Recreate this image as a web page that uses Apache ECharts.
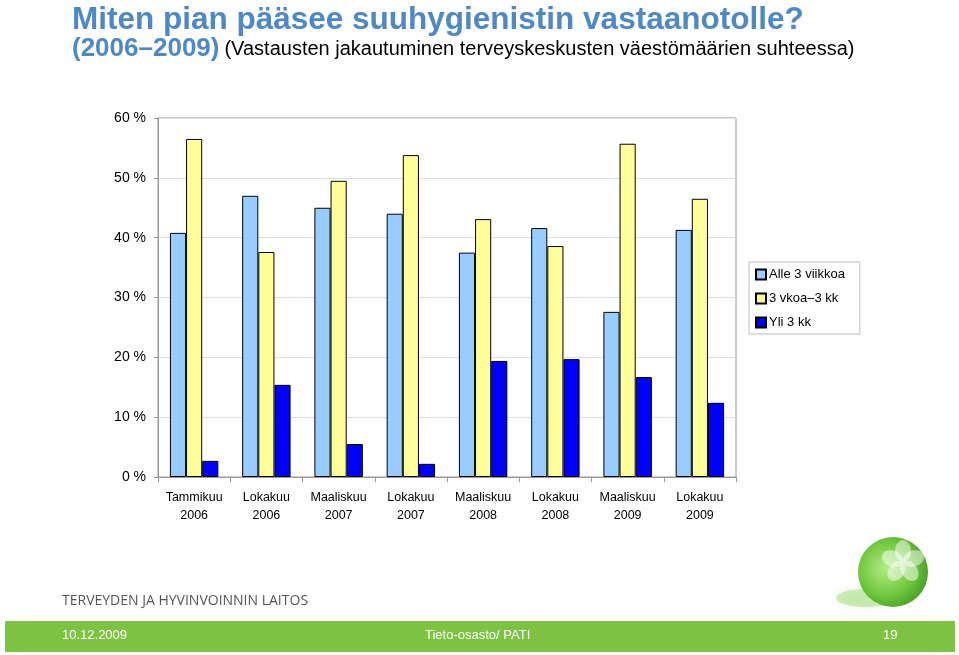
<!DOCTYPE html>
<html><head><meta charset="utf-8">
<script src="https://cdn.jsdelivr.net/npm/echarts@6/dist/echarts.min.js"></script>
<style>html,body{margin:0;padding:0;background:#fff}#c{width:959px;height:655px}</style>
</head><body><div id="c"></div>
<script>
const categories = ['Tammikuu\n2006','Lokakuu\n2006','Maaliskuu\n2007','Lokakuu\n2007','Maaliskuu\n2008','Lokakuu\n2008','Maaliskuu\n2009','Lokakuu\n2009'];
const seriesNames = ['Alle 3 viikkoa','3 vkoa\u20133 kk','Yli 3 kk'];
const alle3vk = [40.8, 47.0, 45.0, 44.0, 37.5, 41.6, 27.6, 41.3];
const vk3kk = [56.5, 37.6, 49.5, 53.8, 43.1, 38.6, 55.7, 46.5];
const yli3kk = [2.7, 15.4, 5.5, 2.2, 19.4, 19.7, 16.7, 12.4];
const yTicks = [0, 10, 20, 30, 40, 50, 60];

const colors = ['#99CCFF', '#FFFF99', '#0000FF'];
const FONT = 'Liberation Sans, Arial, sans-serif';
const NARROW = '"Liberation Sans Narrow", "Liberation Sans", sans-serif';
const chart = echarts.init(document.getElementById('c'));
const mk = (name, data, i) => ({
  name, type: 'bar', data, barGap: '0%', barCategoryGap: '33%',
  itemStyle: { color: colors[i], borderColor: '#000', borderWidth: 1 }
});
const petals = [];
[-90, -18, 54, 126, 198].forEach((ang) => {
  const a = ang * Math.PI / 180;
  petals.push({ type: 'ellipse', rotation: -a, x: 903 + Math.cos(a) * 11, y: 562 + Math.sin(a) * 11,
    shape: { cx: 0, cy: 0, rx: 11, ry: 8 }, style: { fill: 'rgba(255,255,255,0.5)' } });
});
chart.setOption({
  animation: false,
  textStyle: { fontFamily: FONT },
  title: [{
    text: 'Miten pian pääsee suuhygienistin vastaanotolle?',
    left: 67, top: -1,
    textStyle: { fontFamily: FONT, fontSize: 31.5, fontWeight: 'bold', color: '#4F88C8' }
  }, {
    text: '{a|(2006\u20132009)} {b|(Vastausten jakautuminen terveyskeskusten väestömäärien suhteessa)}',
    left: 67, top: 31,
    textStyle: { rich: {
      a: { fontFamily: FONT, fontSize: 26, fontWeight: 'bold', color: '#4F88C8' },
      b: { fontFamily: FONT, fontSize: 20, fontWeight: 'normal', color: '#000' }
    } }
  }],
  legend: {
    orient: 'vertical', left: 749, top: 262,
    borderColor: '#bbb', borderWidth: 1, padding: [6, 15, 5, 6],
    itemWidth: 10, itemHeight: 10, itemGap: 11, icon: 'rect',
    textStyle: { fontFamily: FONT, fontSize: 13, color: '#000', padding: [0, 0, 0, -2] },
    data: seriesNames
  },
  grid: { left: 158, top: 118, width: 578, height: 359, show: true, borderColor: '#999', borderWidth: 1 },
  xAxis: {
    type: 'category', data: categories,
    axisLine: { lineStyle: { color: '#999' } },
    axisTick: { show: true, alignWithLabel: false, length: 5, lineStyle: { color: '#999' } },
    axisLabel: { interval: 0, color: '#000', fontSize: 12.5, lineHeight: 18, margin: 12, fontFamily: FONT }
  },
  yAxis: {
    type: 'value', min: yTicks[0], max: yTicks[yTicks.length - 1], interval: 10,
    axisLine: { show: true, lineStyle: { color: '#999' } },
    axisTick: { show: true, length: 4, lineStyle: { color: '#999' } },
    axisLabel: { formatter: '{value} %', color: '#000', fontSize: 14, margin: 12, fontFamily: FONT },
    splitLine: { lineStyle: { color: '#dcdcdc' } }
  },
  series: [mk(seriesNames[0], alle3vk, 0), mk(seriesNames[1], vk3kk, 1), mk(seriesNames[2], yli3kk, 2)],
  graphic: [
    { type: 'ellipse', shape: { cx: 866, cy: 598, rx: 30, ry: 9 },
      style: { fill: 'rgba(130,205,80,0.35)', shadowBlur: 8, shadowColor: 'rgba(130,205,80,0.6)' } },
    { type: 'circle', shape: { cx: 893, cy: 572, r: 35 },
      style: { fill: { type: 'radial', x: 0.4, y: 0.45, r: 0.75, colorStops: [{ offset: 0, color: '#b4ec86' }, { offset: 0.5, color: '#72c83e' }, { offset: 1, color: '#2f8c1a' }] } } }
  ].concat(petals).concat([
    { type: 'text', left: 62, top: 594,
      style: { text: 'TERVEYDEN JA HYVINVOINNIN LAITOS', fill: '#555', font: '14px "Open Sans", sans-serif' } },
    { type: 'rect', shape: { x: 5, y: 621, width: 950, height: 31 }, style: { fill: '#7DC242' } },
    { type: 'text', left: 62, top: 629, style: { text: '10.12.2009', fill: '#fff', font: '13px ' + NARROW } },
    { type: 'text', left: 425, top: 629, style: { text: 'Tieto-osasto/ PATI', fill: '#fff', font: '13px ' + NARROW } },
    { type: 'text', left: 883, top: 629, style: { text: '19', fill: '#fff', font: '13px ' + NARROW } }
  ])
});
</script></body></html>
